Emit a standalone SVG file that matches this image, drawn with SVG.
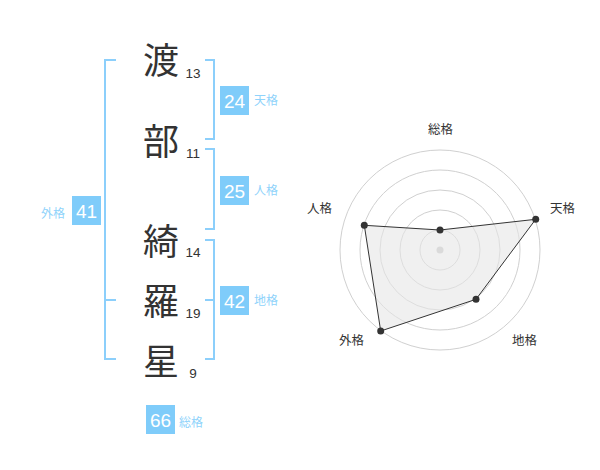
<svg xmlns="http://www.w3.org/2000/svg" width="600" height="470" viewBox="0 0 600 470">
<style>
.ch{font-family:"Noto Sans CJK JP","Noto Sans CJK SC",sans-serif;font-size:36px;fill:#333;text-anchor:middle}
.num{font-family:"Liberation Sans",Arial,sans-serif;font-size:13.5px;fill:#333;text-anchor:middle}
.br{fill:none;stroke:#8ccffb;stroke-width:2}
.box{fill:#7fccfa}
.bn{font-family:"Liberation Sans",Arial,sans-serif;font-size:19px;fill:#fff;text-anchor:middle}
.bl{font-family:"Noto Sans CJK JP","Noto Sans CJK SC",sans-serif;font-size:12px;fill:#8fd3fb}
.ring{fill:none;stroke:#d0d0d0;stroke-width:1}
.rl{font-family:"Noto Sans CJK JP","Noto Sans CJK SC",sans-serif;font-size:12.5px;fill:#333;text-anchor:middle}
.pt{fill:#333}
</style>
<rect width="600" height="470" fill="#fff"/>
<g id="connectors">
<path class="br" d="M116,60 H105 V359 H116 M105,300 H116"/>
<path class="br" d="M205,60 H214 V139 H205"/>
<path class="br" d="M205,149 H214 V229 H205"/>
<path class="br" d="M205,240 H214 V359 H205 M205,300 H214"/>
</g>
<g id="char-1"><text class="ch" x="161" y="74">渡</text><text class="num" x="193" y="78">13</text></g>
<g id="char-2"><text class="ch" x="161" y="155">部</text><text class="num" x="193" y="158">11</text></g>
<g id="char-3"><text class="ch" x="161" y="255">綺</text><text class="num" x="193" y="257">14</text></g>
<g id="char-4"><text class="ch" x="161" y="315">羅</text><text class="num" x="193" y="318">19</text></g>
<g id="char-5"><text class="ch" x="161" y="375">星</text><text class="num" x="193" y="378">9</text></g>
<g id="tenkaku"><rect class="box" x="220" y="86" width="29" height="29"/><text class="bn" x="234.5" y="107.5">24</text><text class="bl" x="254" y="105">天格</text></g>
<g id="jinkaku"><rect class="box" x="220" y="176" width="29" height="29"/><text class="bn" x="234.5" y="197.5">25</text><text class="bl" x="254" y="195">人格</text></g>
<g id="chikaku"><rect class="box" x="220" y="286" width="29" height="29"/><text class="bn" x="234.5" y="307.5">42</text><text class="bl" x="254" y="305">地格</text></g>
<g id="gaikaku"><rect class="box" x="72" y="196" width="29" height="29"/><text class="bn" x="86.5" y="217.5">41</text><text class="bl" x="41" y="218">外格</text></g>
<g id="soukaku"><rect class="box" x="146" y="405" width="29" height="29"/><text class="bn" x="160.5" y="426.5">66</text><text class="bl" x="179" y="427">総格</text></g>
<g id="radar">
<circle class="ring" cx="440" cy="250" r="20"/>
<circle class="ring" cx="440" cy="250" r="40"/>
<circle class="ring" cx="440" cy="250" r="60"/>
<circle class="ring" cx="440" cy="250" r="80"/>
<circle class="ring" cx="440" cy="250" r="100"/>
<circle cx="440" cy="250" r="3.5" fill="#c8c8c8"/>
<polygon points="440,230 535.7,219.3 476,299.3 380.7,331 364.3,225.3" fill="#e6e6e6" fill-opacity="0.6" stroke="#333" stroke-width="1"/>
<circle class="pt" cx="440" cy="230" r="3.5"/>
<circle class="pt" cx="535.7" cy="219.3" r="3.5"/>
<circle class="pt" cx="476" cy="299.3" r="3.5"/>
<circle class="pt" cx="380.7" cy="331" r="3.5"/>
<circle class="pt" cx="364.3" cy="225.3" r="3.5"/>
<text class="rl" x="440.5" y="134">総格</text>
<text class="rl" x="562.5" y="213">天格</text>
<text class="rl" x="524.5" y="345">地格</text>
<text class="rl" x="351.5" y="345">外格</text>
<text class="rl" x="319.5" y="213">人格</text>
</g>
</svg>
